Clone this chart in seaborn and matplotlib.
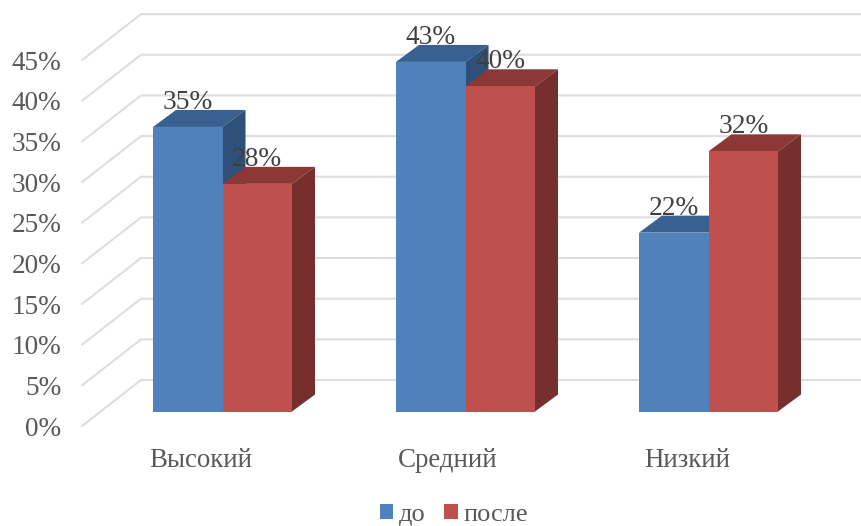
import matplotlib
matplotlib.use("Agg")
import matplotlib.pyplot as plt
from matplotlib.patches import Polygon
from matplotlib.transforms import ScaledTranslation
import pandas as pd
import seaborn as sns

categories = ["Высокий", "Средний", "Низкий"]
series_names = ["до", "после"]
before = [35, 43, 22]
after = [28, 40, 32]
y_ticks = [0, 5, 10, 15, 20, 25, 30, 35, 40, 45]
label_shift_px = [-22, -18, -21]
colors = ["#4F81BD", "#C0504D"]
top_colors = ["#386090", "#8C3836"]
side_colors = ["#2F5078", "#772F2D"]

sns.set_theme(style="white")
plt.rcParams["font.family"] = ["Liberation Serif", "DejaVu Serif"]

W, H, DPI = 861, 526, 100
PX_X = 243.0      # pixels per category
PX_Y = 8.13       # pixels per percent
X0, Y0 = 222.5, 411.5  # pixel of category 0, value 0
AX_L, AX_B = 82, 426

fig = plt.figure(figsize=(W / DPI, H / DPI), dpi=DPI)
ax = fig.add_axes([AX_L / W, (H - AX_B) / H, (W - AX_L) / W, AX_B / H])
fx = lambda px: (px - X0) / PX_X
fy = lambda py: (Y0 - py) / PX_Y

df = pd.DataFrame({
    "cat": categories * 2,
    "series": [series_names[0]] * 3 + [series_names[1]] * 3,
    "val": before + after,
})
sns.barplot(data=df, x="cat", y="val", hue="series", hue_order=series_names,
            order=categories, palette=colors, width=0.572, saturation=1,
            gap=0, ax=ax, legend=False, linewidth=0)
ax.set_xlim(fx(AX_L), fx(W))
ax.set_ylim(fy(AX_B), fy(0))

# perspective depth in data units
DX = 23 / PX_X
DY = 17 / PX_Y
text_color = "#404040"
bars = list(ax.patches)[:6]
for i, b in enumerate(bars):
    s = i // 3
    x, w, h = b.get_x(), b.get_width(), b.get_height()
    b.set_zorder(3 + 2 * s + 0.5)
    ax.add_patch(Polygon([(x, h), (x + w, h), (x + w + DX, h + DY), (x + DX, h + DY)],
                         fc=top_colors[s], lw=0, zorder=3 + 2 * s))
    ax.add_patch(Polygon([(x + w, 0), (x + w + DX, DY), (x + w + DX, h + DY), (x + w, h)],
                         fc=side_colors[s], lw=0, zorder=3 + 2 * s))
    ax.annotate(f"{h:.0f}%", (x + w / 2, h), xytext=(0, 24.5 * 72 / DPI),
                textcoords="offset points", ha="center", va="center",
                fontsize=19.7, color=text_color, zorder=10)

# back wall and side wall gridlines
grid_c = "#DEDEDE"
back_shift = (Y0 - 380) / PX_Y
for v in y_ticks:
    ax.plot([fx(82), fx(141), fx(W)], [v + fy(426), v + back_shift, v + back_shift],
            color=grid_c, lw=1.5, zorder=1, clip_on=False, solid_joinstyle="miter")

ax.set_yticks(y_ticks, [f"{v}%" for v in y_ticks])
ax.tick_params(axis="y", length=0, pad=15, labelsize=19.6, labelcolor="#595959")
ax.tick_params(axis="x", length=0, pad=15.5, labelsize=19.4, labelcolor="#595959")
ax.set_xlabel("")
ax.set_ylabel("")
for t in ax.get_yticklabels():
    t.set_transform(t.get_transform() + ScaledTranslation(0, -14.5 / DPI, fig.dpi_scale_trans))
for t, dx in zip(ax.get_xticklabels(), label_shift_px):
    t.set_transform(t.get_transform() + ScaledTranslation(dx / DPI, 0, fig.dpi_scale_trans))
sns.despine(ax=ax, left=True, bottom=True)
ax.patch.set_alpha(0)

handles = [plt.Rectangle((0, 0), 1, 1, fc=c, lw=0) for c in colors]
fig.legend(handles, series_names, loc="center", bbox_to_anchor=(454 / W, (H - 515) / H),
           ncol=2, frameon=False, fontsize=19, labelcolor="#595959",
           handlelength=0.52, handleheight=0.52, handletextpad=0.23,
           columnspacing=0.68, borderpad=0, labelspacing=0)

fig.savefig("out.png", dpi=DPI, facecolor="white")
